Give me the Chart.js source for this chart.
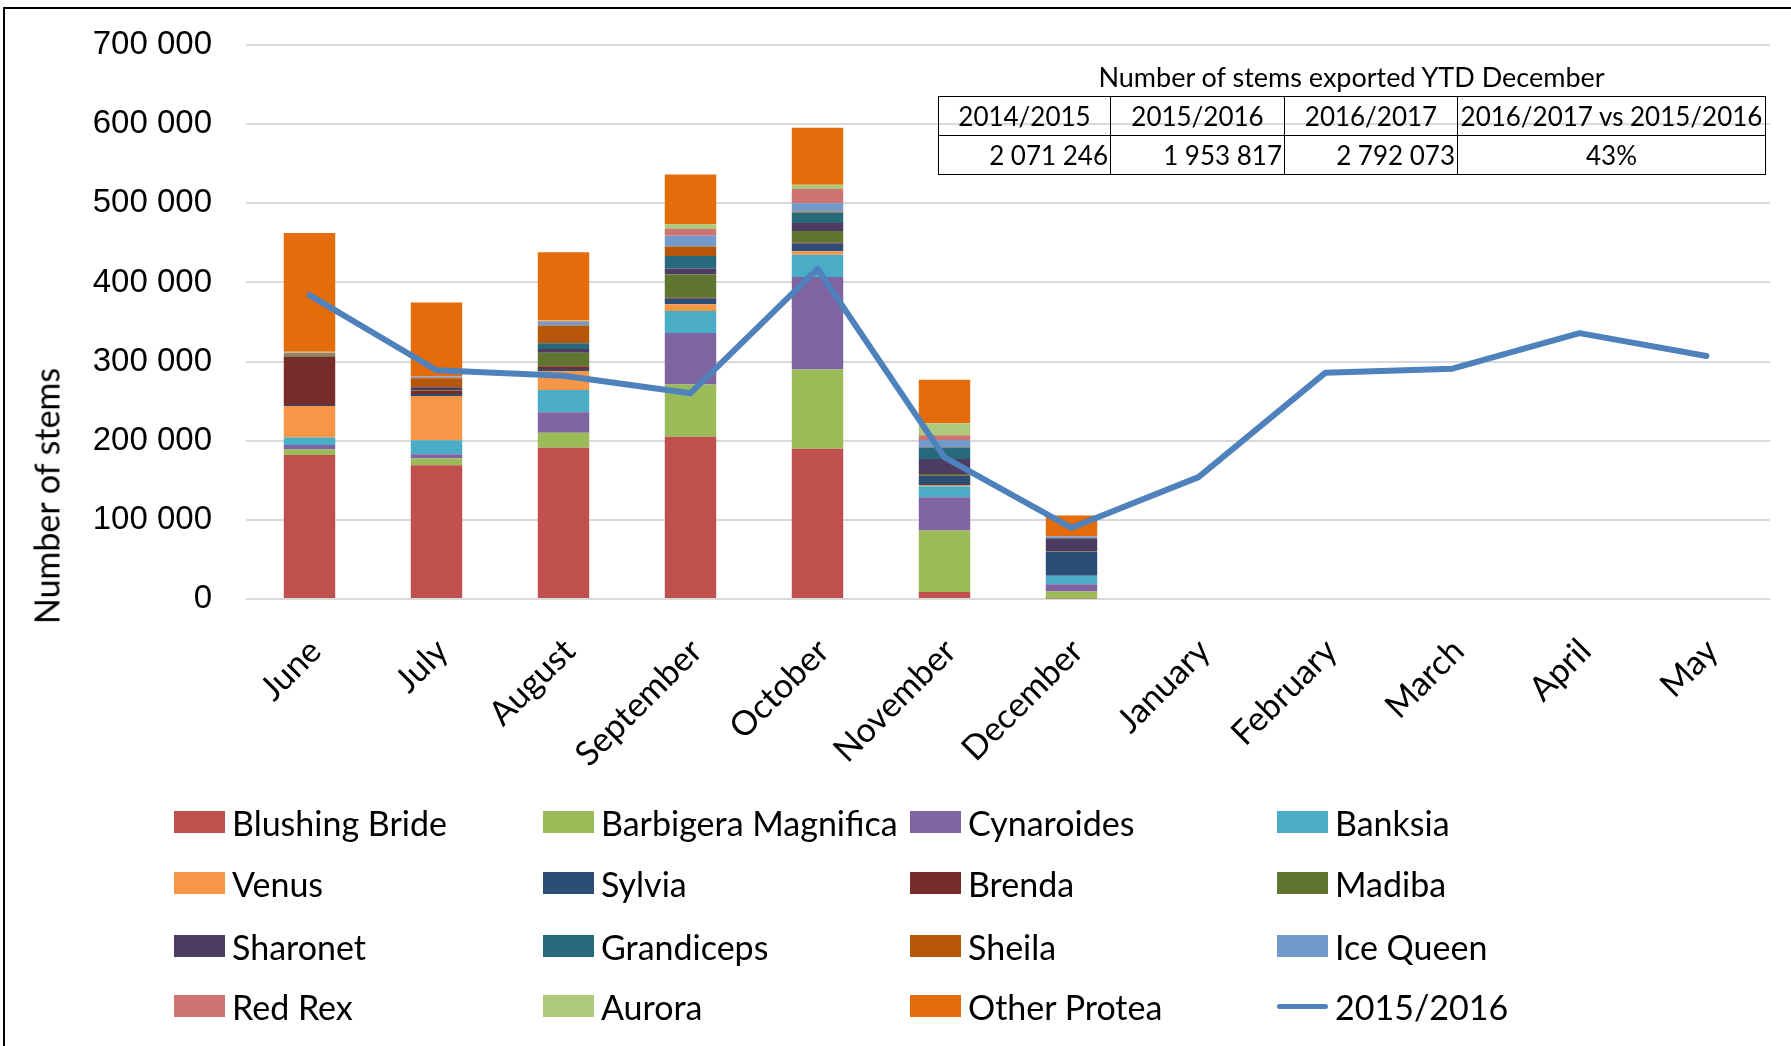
<!DOCTYPE html>
<html>
<head>
<meta charset="utf-8">
<script src="https://cdn.jsdelivr.net/npm/chart.js@4.4.1/dist/chart.umd.min.js"></script>
<style>
  html, body { margin: 0; padding: 0; background: #fff; }
  body { width: 1791px; height: 1046px; position: relative; overflow: hidden; font-family: Lato, "Open Sans", sans-serif; }
  #frame { position: absolute; left: 3px; top: 7px; right: -5px; bottom: -5px; border-left: 2px solid #000; border-top: 2px solid #000; }
  #chartBox { position: absolute; left: 0; top: 0; width: 1791px; height: 1046px; }
  #yTitle { position: absolute; left: 46px; top: 496px; transform: translate(-50%, -50%) rotate(-90deg); font-size: 34px; white-space: nowrap; color: #000; }
  #ytdTitle { position: absolute; left: 938px; width: 827px; top: 60px; text-align: center; font-size: 27px; color: #000; }
  #ytd { position: absolute; left: 938px; top: 96px; width: 827px; border-collapse: collapse; table-layout: fixed; font-size: 26px; color: #000; }
  #ytd td { border: 1.5px solid #000; height: 38px; padding: 0 2px; line-height: 38px; white-space: nowrap; overflow: hidden; }
  #ytd tr:first-child td { text-align: center; }
  #ytd tr:last-child td { text-align: right; }
  #ytd tr:last-child td:last-child { text-align: center; }
  .lg { position: absolute; height: 40px; display: flex; align-items: center; font-size: 34px; color: #000; white-space: nowrap; }
  .lg .sw { width: 51px; height: 22px; margin-right: 7px; flex: none; }
  .lg .ln { width: 51px; height: 5px; border-radius: 3px; margin-right: 7px; flex: none; }
</style>
</head>
<body>
<div id="frame"></div>
<div id="chartBox"><canvas id="chart" width="1791" height="1046"></canvas></div>
<div id="yTitle">Number of stems</div>
<div id="ytdTitle">Number of stems exported YTD December</div>
<table id="ytd">
  <colgroup><col style="width:172px"><col style="width:174px"><col style="width:173px"><col style="width:308px"></colgroup>
  <tr><td>2014/2015</td><td>2015/2016</td><td>2016/2017</td><td>2016/2017 vs 2015/2016</td></tr>
  <tr><td>2 071 246</td><td>1 953 817</td><td>2 792 073</td><td>43%</td></tr>
</table>
<div id="legend"></div>
<script>
// ======= Данные =======
const months = ['June', 'July', 'August', 'September', 'October', 'November', 'December',
                'January', 'February', 'March', 'April', 'May'];

// stems exported 2016/2017 per variety (Jun - Dec, rest of season not yet reported)
const blushingBride      = [182000, 169000, 191000, 205000, 190000,  9000,   500, null, null, null, null, null];
const barbigeraMagnifica = [  7000,   9000,  19000,  66000, 100000, 77500,  9000, null, null, null, null, null];
const cynaroides         = [  5500,   5000,  26000,  65000, 117000, 42000,  9000, null, null, null, null, null];
const banksia            = [  9500,  17500,  28000,  28000,  28000, 13500, 11000, null, null, null, null, null];
const venus              = [ 40000,  56000,  24000,   8500,   4500,  2000,     0, null, null, null, null, null];
const sylvia             = [  1000,   2500,   2500,   7000,   9500, 11500, 30000, null, null, null, null, null];
const brenda             = [ 61000,   4000,   3500,   1000,   1000,   500,     0, null, null, null, null, null];
const madiba             = [  2000,   1000,  17000,  29500,  15000,  2000,   500, null, null, null, null, null];
const sharonet           = [   500,   3500,   5000,   7500,  10000, 19000, 16500, null, null, null, null, null];
const grandiceps         = [   500,    500,   7000,  16000,  13500, 14500,   500, null, null, null, null, null];
const sheila             = [  1500,  11000,  22500,  12000,   1000,   500,     0, null, null, null, null, null];
const iceQueen           = [   500,   1500,   4500,  13500,  10500,  9000,  2000, null, null, null, null, null];
const redRex             = [   500,    500,   1000,   8500,  18000,  6000,     0, null, null, null, null, null];
const aurora             = [  1000,    500,   1000,   6000,   5500, 15000,     0, null, null, null, null, null];
const otherProtea        = [150000,  93000,  86000,  63000,  72000, 55000, 26500, null, null, null, null, null];

// previous season total, whole year
const season1516 = [384000, 289000, 282000, 260000, 417000, 179000, 90000, 154000, 286000, 291000, 336000, 307000];

const yTicks = [0, 100000, 200000, 300000, 400000, 500000, 600000, 700000];

const fmt = v => String(v).replace(/\B(?=(\d{3})+(?!\d))/g, ' ');

function bar(label, data, color) {
    return { type: 'bar', label, data, backgroundColor: color, borderWidth: 0, order: 1,
             barPercentage: 0.405, categoryPercentage: 1.0 };
}

const datasets = [
    bar('Blushing Bride', blushingBride, '#C0504D'),
    bar('Barbigera Magnifica', barbigeraMagnifica, '#9BBB59'),
    bar('Cynaroides', cynaroides, '#8064A2'),
    bar('Banksia', banksia, '#4BACC6'),
    bar('Venus', venus, '#F79646'),
    bar('Sylvia', sylvia, '#2C4D75'),
    bar('Brenda', brenda, '#772C2A'),
    bar('Madiba', madiba, '#5F7530'),
    bar('Sharonet', sharonet, '#4D3B62'),
    bar('Grandiceps', grandiceps, '#276A7C'),
    bar('Sheila', sheila, '#B65708'),
    bar('Ice Queen', iceQueen, '#729ACA'),
    bar('Red Rex', redRex, '#CD7371'),
    bar('Aurora', aurora, '#AFC97A'),
    bar('Other Protea', otherProtea, '#E46C0A'),
    { type: 'line', label: '2015/2016', data: season1516, borderColor: '#4F81BD', backgroundColor: '#4F81BD',
      borderWidth: 6, pointRadius: 0, tension: 0, order: 0, stack: 'line',
      borderCapStyle: 'round', borderJoinStyle: 'round' }
];

const chart = new Chart(document.getElementById('chart').getContext('2d'), {
    type: 'bar',
    data: { labels: months, datasets },
    options: {
        responsive: false,
        animation: false,
        layout: { padding: { top: 45, right: 21, left: 0, bottom: 0 } },
        plugins: {
            legend: { display: false },
            tooltip: { enabled: false }
        },
        scales: {
            x: {
                stacked: true,
                grid: { display: false },
                border: { display: false },
                ticks: {
                    color: '#000', autoSkip: false, minRotation: 45, maxRotation: 45, padding: 24,
                    labelOffset: 6,
                    font: { family: 'Lato', size: 34 }
                },
                afterFit: s => { s.height = 447; s.paddingLeft = 0; s.paddingRight = 0; }
            },
            y: {
                stacked: true,
                min: 0, max: 700000,
                afterBuildTicks: s => { s.ticks = yTicks.map(v => ({ value: v })); },
                grid: { color: '#D9D9D9', lineWidth: 2, drawTicks: false },
                border: { display: false },
                ticks: {
                    color: '#000', padding: 34,
                    font: { family: '"Liberation Sans", Arial', size: 33 },
                    callback: v => fmt(v)
                },
                afterFit: s => { s.width = 246; s.paddingTop = 0; s.paddingBottom = 0; }
            }
        }
    }
});

// ======= Легенда 4x4 =======
const colX = [174, 543, 910, 1277];
const rowY = [822, 883, 946, 1006];
const legend = document.getElementById('legend');
chart.data.datasets.forEach((ds, i) => {
    const item = document.createElement('div');
    item.className = 'lg';
    item.style.left = colX[i % 4] + 'px';
    item.style.top = (rowY[Math.floor(i / 4)] - 20) + 'px';
    const mark = document.createElement('span');
    mark.className = ds.type === 'line' ? 'ln' : 'sw';
    mark.style.background = ds.type === 'line' ? ds.borderColor : ds.backgroundColor;
    item.appendChild(mark);
    item.appendChild(document.createTextNode(ds.label));
    legend.appendChild(item);
});
</script>
</body>
</html>
